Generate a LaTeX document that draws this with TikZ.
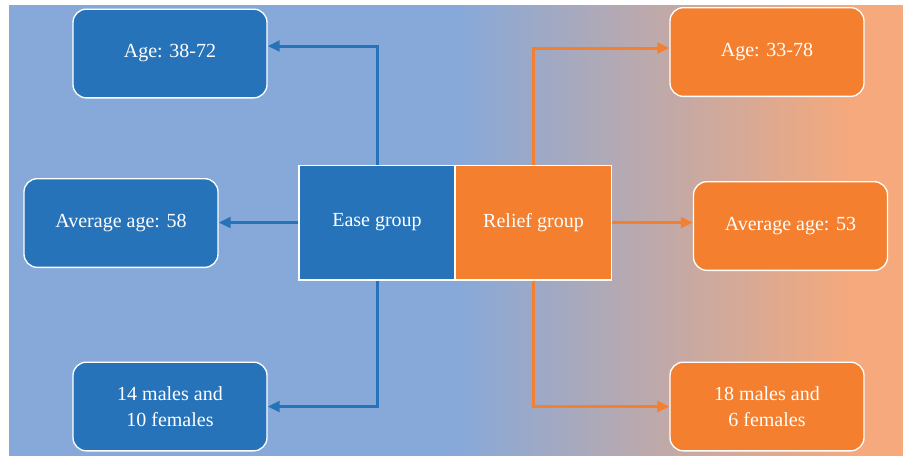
\documentclass[tikz,border=0pt]{standalone}
\usepackage{fontspec}
\setmainfont{Liberation Serif}
\usepackage{tikz}
\usepackage{xcolor}
\usetikzlibrary{arrows.meta}

\definecolor{easeblue}{HTML}{2673BA}
\definecolor{reliefor}{HTML}{F37F2F}
\definecolor{bgblue}{HTML}{87A9D9}
\definecolor{bgorange}{HTML}{F5A97C}

\begin{document}
\begin{tikzpicture}[x=0.75pt, y=-0.75pt,
        box/.style={draw=white, line width=1pt, rounded corners=10pt, text=white,
            minimum width=145.5pt, minimum height=66.5pt, align=center,
            font=\fontsize{15}{19.5}\selectfont},
        bluebox/.style={box, fill=easeblue},
        orbox/.style={box, fill=reliefor},
        grp/.style={draw=white, line width=1pt, text=white, minimum width=117pt,
            minimum height=86pt, font=\fontsize{15}{19.5}\selectfont},
        bline/.style={easeblue, line width=2.25pt, -{Triangle[length=9pt, width=8pt]}},
        oline/.style={reliefor, line width=2.25pt, -{Triangle[length=9pt, width=8pt]}}]
            \useasboundingbox (0,0) rectangle (903,455);
            % background
            \fill[bgblue] (9,5) rectangle (461,462);
            \shade[left color=bgblue, right color=bgorange] (459.5,5) rectangle (850.5,462);
            \fill[bgorange] (850,5) rectangle (910,462);
            % groups
            \node[grp, fill=easeblue] (ease) at (377,222.5) {Ease group};
            \node[grp, fill=reliefor] (relief) at (533.5,222.5) {Relief group};
            % ease group boxes
            \node[bluebox] (age1) at (170,53.5) {Age: 38-72};
            \node[bluebox] (avg1) at (121,223) {Average age: 58};
            \node[bluebox] (sex1) at (170,406.5) {14 males and\\10 females};
            % relief group boxes
            \node[orbox] (age2) at (767,52) {Age: 33-78};
            \node[orbox] (avg2) at (790.5,226) {Average age: 53};
            \node[orbox] (sex2) at (767,406.5) {18 males and\\6 females};
            % arrows
            \draw[bline] (ease.north) |- (age1.east |- 0,46);
            \draw[bline] (ease.west) -- (avg1.east |- ease.west);
            \draw[bline] (ease.south) |- (sex1.east);
            \draw[oline] (relief.north) |- (age2.west |- 0,48);
            \draw[oline] (relief.east) -- (avg2.west |- relief.east);
            \draw[oline] (relief.south) |- (sex2.west);
        \end{tikzpicture}
\end{document}
